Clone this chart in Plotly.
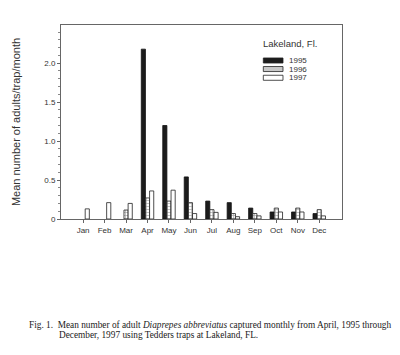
import plotly.graph_objects as go

months = ["Jan", "Feb", "Mar", "Apr", "May", "Jun", "Jul", "Aug", "Sep", "Oct", "Nov", "Dec"]
y1995 = [None, None, None, 2.18, 1.20, 0.54, 0.23, 0.21, 0.14, 0.09, 0.09, 0.07]
y1996 = [None, None, 0.115, 0.27, 0.23, 0.21, 0.12, 0.07, 0.07, 0.14, 0.14, 0.12]
y1997 = [0.13, 0.21, 0.20, 0.36, 0.37, 0.07, 0.085, 0.03, 0.04, 0.09, 0.09, 0.04]
series_names = ["1995", "1996", "1997"]
ytick_vals = [0, 0.5, 1.0, 1.5, 2.0]
ytick_text = ["0", "0.5", "1.0", "1.5", "2.0"]

x = list(range(len(months)))
fig = go.Figure()
fig.add_trace(go.Bar(x=x, y=y1995, name=series_names[0],
                     marker=dict(color="#1c1c1c", line=dict(color="#111", width=0.8))))
fig.add_trace(go.Bar(x=x, y=y1996, name=series_names[1],
                     marker=dict(color="white", line=dict(color="#222", width=0.8),
                                 pattern=dict(shape="+", size=3, solidity=0.35, fgcolor="#333", bgcolor="white"))))
fig.add_trace(go.Bar(x=x, y=y1997, name=series_names[2],
                     marker=dict(color="white", line=dict(color="#222", width=0.8))))

sans = "Liberation Sans, Arial, sans-serif"
axis_font = dict(family=sans, size=8, color="#333")
fig.update_layout(
    width=400, height=355,
    margin=dict(l=61, r=58, t=25, b=136),
    paper_bgcolor="white", plot_bgcolor="white",
    barmode="group", bargap=0.42, bargroupgap=0,
    font=axis_font,
    showlegend=False,
    xaxis=dict(
        range=[-1.03, 12.06], tickmode="array", tickvals=x, ticktext=months,
        showline=True, linecolor="#666", linewidth=1, mirror=True,
        ticks="outside", ticklen=3, tickcolor="#666", showgrid=False, zeroline=False,
        tickfont=axis_font,
    ),
    yaxis=dict(
        range=[0, 2.49], tickmode="array", tickvals=ytick_vals, ticktext=ytick_text,
        showline=True, linecolor="#666", linewidth=1, mirror=True,
        ticks="outside", ticklen=3, tickcolor="#666", showgrid=False, zeroline=False,
        minor=dict(dtick=0.1, tick0=0, ticks="outside", ticklen=2, tickcolor="#888", showgrid=False),
        tickfont=axis_font,
        title=dict(text="Mean number of adults/trap/month",
                   font=dict(family=sans, size=11, color="#333"),
                   standoff=21),
    ),
)

# manual legend (compact, wide swatches as in the original)
leg_fill = ["#1c1c1c", "#c8c8c8", "white"]
leg_rows = [0.817, 0.773, 0.728]
half_h = 0.013
for name, fill, yc in zip(series_names, leg_fill, leg_rows):
    fig.add_shape(type="rect", xref="paper", yref="paper",
                  x0=0.72, x1=0.79, y0=yc - half_h, y1=yc + half_h,
                  fillcolor=fill, line=dict(color="#222", width=0.8))
    fig.add_annotation(text=name, xref="paper", yref="paper", x=0.805, y=yc,
                       xanchor="left", yanchor="middle", showarrow=False,
                       font=dict(family=sans, size=8, color="#333"))
fig.add_annotation(text="Lakeland, Fl.", xref="paper", yref="paper", x=0.713, y=0.907,
                   xanchor="left", yanchor="middle", showarrow=False,
                   font=dict(family=sans, size=9.5, color="#333"))

cap_font = dict(family="Liberation Serif, Times New Roman, serif", size=9.3, color="#222")
fig.add_annotation(
    text="Fig. 1.  Mean number of adult <i>Diaprepes abbreviatus</i> captured monthly from April, 1995 through",
    xref="paper", yref="paper", x=-0.12, y=-0.545, xanchor="left", yanchor="middle",
    showarrow=False, font=cap_font, align="left")
fig.add_annotation(
    text="December, 1997 using Tedders traps at Lakeland, FL.",
    xref="paper", yref="paper", x=-0.013, y=-0.597, xanchor="left", yanchor="middle",
    showarrow=False, font=cap_font, align="left")

fig.write_html("out.html")
